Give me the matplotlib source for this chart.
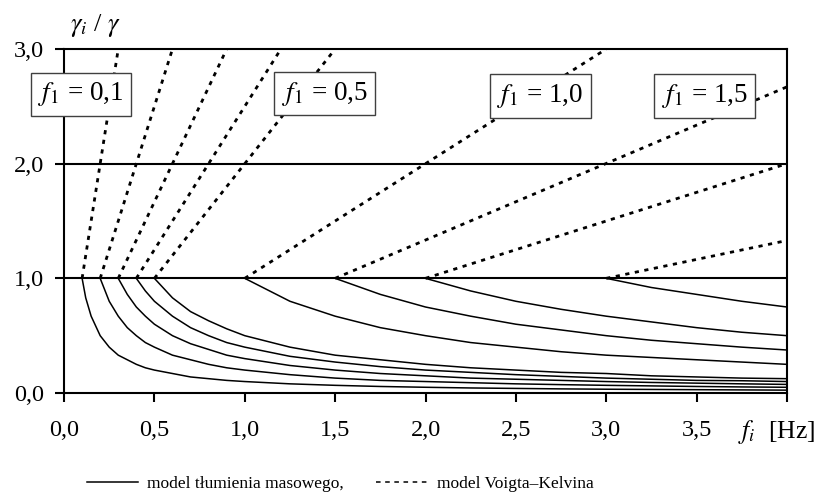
"""
Stosunek tłumienia gamma_i/gamma w funkcji częstotliwości f_i
dla modelu tłumienia masowego i modelu Voigta-Kelvina.
"""
import matplotlib
matplotlib.use("Agg")
import matplotlib.pyplot as plt
from matplotlib.lines import Line2D

plt.rcParams["font.family"] = ["Liberation Serif", "DejaVu Serif"]
plt.rcParams["mathtext.fontset"] = "stix"

# częstotliwości f_i [Hz], wspólna siatka odczytu
f_i = [0.10, 0.12, 0.15, 0.20, 0.25, 0.30, 0.35, 0.40, 0.45, 0.50,
       0.60, 0.70, 0.80, 0.90, 1.00, 1.25, 1.50, 1.75, 2.00, 2.25,
       2.50, 2.75, 3.00, 3.25, 3.50, 3.75, 4.00]

# model tłumienia masowego - wartości od f_i = f_1 do 4,0 Hz
# (każda seria odpowiada końcówce siatki f_i)
mas_01 = [1.00, 0.83, 0.67, 0.50, 0.40, 0.33, 0.29, 0.25, 0.22, 0.20,
          0.17, 0.14, 0.125, 0.11, 0.10, 0.08, 0.067, 0.057, 0.05, 0.044,
          0.04, 0.036, 0.033, 0.031, 0.029, 0.027, 0.025]
mas_02 = [1.00, 0.80, 0.67, 0.57, 0.50, 0.44, 0.40, 0.33, 0.29, 0.25,
          0.22, 0.20, 0.16, 0.13, 0.11, 0.10, 0.09, 0.08, 0.073, 0.067,
          0.062, 0.057, 0.053, 0.05]
mas_03 = [1.00, 0.86, 0.75, 0.67, 0.60, 0.50, 0.43, 0.38, 0.33, 0.30,
          0.24, 0.20, 0.17, 0.15, 0.13, 0.12, 0.11, 0.10, 0.092, 0.086,
          0.08, 0.075]
mas_04 = [1.00, 0.89, 0.80, 0.67, 0.57, 0.50, 0.44, 0.40, 0.32, 0.27,
          0.23, 0.20, 0.18, 0.16, 0.145, 0.13, 0.12, 0.11, 0.107, 0.10]
mas_05 = [1.00, 0.83, 0.71, 0.63, 0.56, 0.50, 0.40, 0.33, 0.29, 0.25,
          0.22, 0.20, 0.18, 0.17, 0.15, 0.14, 0.13, 0.125]
mas_10 = [1.00, 0.80, 0.67, 0.57, 0.50, 0.44, 0.40, 0.36, 0.33, 0.31,
          0.29, 0.27, 0.25]
mas_15 = [1.00, 0.86, 0.75, 0.67, 0.60, 0.55, 0.50, 0.46, 0.43, 0.40,
          0.375]
mas_20 = [1.00, 0.89, 0.80, 0.73, 0.67, 0.62, 0.57, 0.53, 0.50]
mas_30 = [1.00, 0.92, 0.86, 0.80, 0.75]
masowe = [mas_01, mas_02, mas_03, mas_04, mas_05, mas_10, mas_15, mas_20, mas_30]

# model Voigta-Kelvina - linie proste od (f_1; 1,0)
voigt_f1 = [0.1, 0.2, 0.3, 0.4, 0.5, 1.0, 1.5, 2.0, 3.0]
voigt_f_end = [0.3, 0.6, 0.9, 1.2, 1.5, 3.0, 4.0, 4.0, 4.0]
voigt_y_end = [3.0, 3.0, 3.0, 3.0, 3.0, 3.0, 2.67, 2.0, 1.33]

# etykiety w ramkach
label_f1 = ["0,1", "0,5", "1,0", "1,5"]
label_x = [0.094, 1.443, 2.636, 3.544]
label_y = [2.605, 2.61, 2.59, 2.59]

x_ticks = [0.0, 0.5, 1.0, 1.5, 2.0, 2.5, 3.0, 3.5, 4.0]
x_tick_labels = ["0,0", "0,5", "1,0", "1,5", "2,0", "2,5", "3,0", "3,5", ""]
y_ticks = [0.0, 1.0, 2.0, 3.0]
y_tick_labels = ["0,0", "1,0", "2,0", "3,0"]

fig = plt.figure(figsize=(8.22, 4.92), dpi=100)
ax = fig.add_axes([0.0779, 0.2012, 0.8795, 0.6992])

dots = (0, (1.5, 2.0))
for vals in masowe:
    ax.plot(f_i[-len(vals):], vals, color="black", lw=1.1, zorder=2)
for f1, fe, ye in zip(voigt_f1, voigt_f_end, voigt_y_end):
    ax.plot([f1, fe], [1.0, ye], color="black", lw=2.0,
            linestyle=dots, dash_capstyle="butt", zorder=2)

for y in (1.0, 2.0):
    ax.axhline(y, color="black", lw=1.5, zorder=1)

ax.set_xlim(0, 4.0)
ax.set_ylim(0, 3.0)
ax.set_xticks(x_ticks, x_tick_labels)
ax.set_yticks(y_ticks, y_tick_labels)
ax.tick_params(axis="both", direction="out", length=6.5, width=1.5,
               labelsize=17.5)
ax.tick_params(axis="x", pad=13)
ax.tick_params(axis="y", pad=8)
for sp in ax.spines.values():
    sp.set_linewidth(1.5)

for txt, x, y in zip(label_f1, label_x, label_y):
    ax.text(x, y, f"$f_1$ = {txt}", fontsize=19.5, ha="center", va="center",
            zorder=5, clip_on=False,
            bbox=dict(boxstyle="square,pad=0.28", fc="white",
                      ec="#404040", lw=1.0))

ax.text(0.043, 1.067, r"$\gamma_i$ / $\gamma$", transform=ax.transAxes,
        fontsize=19, ha="center", va="center")
ax.text(0.985, -0.112, r"$f_i$  [Hz]", transform=ax.transAxes,
        fontsize=18.5, ha="center", va="center")

handles = [Line2D([], [], color="black", lw=1.1),
           Line2D([], [], color="black", lw=1.1, linestyle=(0, (3, 3)))]
fig.legend(handles, ["model tłumienia masowego,", "model Voigta–Kelvina"],
           loc="center", bbox_to_anchor=(0.414, 0.017), ncol=2,
           frameon=False, fontsize=12.5, handlelength=2.9,
           handletextpad=0.57, columnspacing=1.85, borderpad=0)

fig.savefig("out.png", dpi=100)
